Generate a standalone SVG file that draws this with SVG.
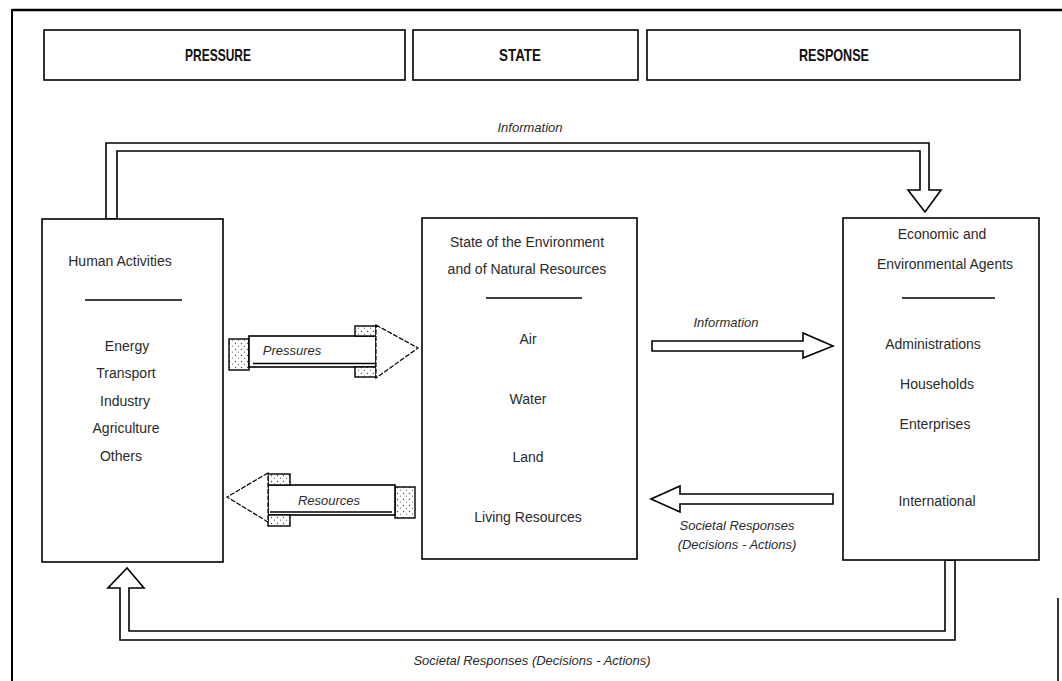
<svg xmlns="http://www.w3.org/2000/svg" width="1062" height="681" viewBox="0 0 1062 681">
  <style>
    .frame { fill: none; stroke: #000; }
    .box { fill: #fff; stroke: #000; stroke-width: 1.6; }
    .pipe { fill: #fff; stroke: #000; stroke-width: 1.6; stroke-linejoin: miter; }
    .rule { stroke: #000; stroke-width: 1.3; }
    .hdr { font-family: "Liberation Sans", Arial, sans-serif; font-size: 17px; font-weight: bold; text-anchor: middle; fill: #111; }
    .txt { font-family: "Liberation Sans", Arial, sans-serif; font-size: 14px; text-anchor: middle; fill: #2a2a2a; }
    .lbl { font-family: "Liberation Sans", Arial, sans-serif; font-size: 13px; font-style: italic; text-anchor: middle; fill: #2a2a2a; }
    .fold { fill: url(#stipple); stroke: #000; stroke-width: 1.4; }
    .head { fill: #fff; stroke: #000; stroke-width: 1.2; stroke-dasharray: 5 1.5; }
  </style>
  <defs>
    <pattern id="stipple" width="6" height="6" patternUnits="userSpaceOnUse">
      <rect width="6" height="6" fill="#fff"/>
      <circle cx="1.5" cy="1.5" r="0.7" fill="#444"/>
      <circle cx="4.5" cy="4.2" r="0.6" fill="#666"/>
    </pattern>
  </defs>

  <!-- outer frame -->
  <g id="frame">
    <line class="frame" x1="12" y1="10" x2="1062" y2="10" stroke-width="2.4"/>
    <line class="frame" x1="12" y1="9" x2="12" y2="681" stroke-width="2"/>
    <line class="frame" x1="1058" y1="598" x2="1058" y2="681" stroke-width="1.6"/>
  </g>

  <!-- column headers (condensed lettering) -->
  <g id="hdr-pressure">
    <rect class="box" x="44" y="30" width="361" height="50"/>
    <text class="hdr" x="218" y="61" textLength="66" lengthAdjust="spacingAndGlyphs">PRESSURE</text>
  </g>
  <g id="hdr-state">
    <rect class="box" x="413" y="30" width="225" height="50"/>
    <text class="hdr" x="520" y="61" textLength="42" lengthAdjust="spacingAndGlyphs">STATE</text>
  </g>
  <g id="hdr-response">
    <rect class="box" x="647" y="30" width="373" height="50"/>
    <text class="hdr" x="834" y="61" textLength="70" lengthAdjust="spacingAndGlyphs">RESPONSE</text>
  </g>

  <!-- connectors -->
  <g id="connectors">
    <!-- information loop over the top -->
    <polygon class="pipe" points="106,219 106,143 929,143 929,190 941,190 925,212 908,190 920,190 920,151 117,151 117,219"/>
    <text class="lbl" x="530" y="132">Information</text>

    <!-- societal responses loop along the bottom -->
    <polygon class="pipe" points="955,560 955,640 120,640 120,588 108,588 127,568 144,588 129,588 129,631 945,631 945,560"/>
    <text class="lbl" x="532" y="665">Societal Responses (Decisions - Actions)</text>

    <!-- pressures ribbon arrow -->
    <g id="arrow-pressures">
      <rect class="fold" x="229" y="339" width="20" height="31"/>
      <rect class="box" x="249" y="336" width="127" height="31"/>
      <line class="rule" x1="253" y1="363.5" x2="376" y2="363.5" stroke-width="1"/>
      <rect class="fold" x="355" y="326" width="21" height="10"/>
      <rect class="fold" x="355" y="367" width="21" height="10"/>
      <polygon class="head" points="376,325 418,348 376,378"/>
      <text class="lbl" x="292" y="355">Pressures</text>
    </g>

    <!-- resources ribbon arrow -->
    <g id="arrow-resources">
      <rect class="fold" x="395" y="487" width="20" height="31"/>
      <rect class="box" x="268" y="485" width="127" height="30"/>
      <line class="rule" x1="270" y1="512" x2="392" y2="512" stroke-width="1"/>
      <rect class="fold" x="268" y="474" width="22" height="11"/>
      <rect class="fold" x="268" y="515" width="22" height="11"/>
      <polygon class="head" points="268,473 227,497 268,522"/>
      <text class="lbl" x="329" y="505">Resources</text>
    </g>

    <!-- information from state to agents -->
    <g id="arrow-information">
      <polygon class="pipe" points="652,341 803,341 803,333 833,346 803,358 803,351 652,351"/>
      <text class="lbl" x="726" y="327">Information</text>
    </g>

    <!-- societal responses from agents to state -->
    <g id="arrow-societal">
      <polygon class="pipe" points="833,494 680,494 680,486 651,499 680,512 680,504 833,504"/>
      <text class="lbl" x="737" y="530">Societal Responses</text>
      <text class="lbl" x="737" y="549">(Decisions - Actions)</text>
    </g>
  </g>

  <!-- pressure node -->
  <g id="node-human-activities">
    <rect class="box" x="42" y="219" width="181" height="343"/>
    <text class="txt" x="120" y="266">Human Activities</text>
    <line class="rule" x1="85" y1="300" x2="182" y2="300"/>
    <text class="txt" x="127" y="351">Energy</text>
    <text class="txt" x="126" y="378">Transport</text>
    <text class="txt" x="125" y="406">Industry</text>
    <text class="txt" x="126" y="433">Agriculture</text>
    <text class="txt" x="121" y="461">Others</text>
  </g>

  <!-- state node -->
  <g id="node-state">
    <rect class="box" x="422" y="218" width="215" height="341"/>
    <text class="txt" x="527" y="247">State of the Environment</text>
    <text class="txt" x="527" y="274">and of Natural Resources</text>
    <line class="rule" x1="486" y1="298" x2="582" y2="298"/>
    <text class="txt" x="528" y="344">Air</text>
    <text class="txt" x="528" y="404">Water</text>
    <text class="txt" x="528" y="462">Land</text>
    <text class="txt" x="528" y="522">Living Resources</text>
  </g>

  <!-- response node -->
  <g id="node-agents">
    <rect class="box" x="843" y="218" width="196" height="342"/>
    <text class="txt" x="942" y="239">Economic and</text>
    <text class="txt" x="945" y="269">Environmental Agents</text>
    <line class="rule" x1="902" y1="298" x2="995" y2="298"/>
    <text class="txt" x="933" y="349">Administrations</text>
    <text class="txt" x="937" y="389">Households</text>
    <text class="txt" x="935" y="429">Enterprises</text>
    <text class="txt" x="937" y="506">International</text>
  </g>
</svg>
